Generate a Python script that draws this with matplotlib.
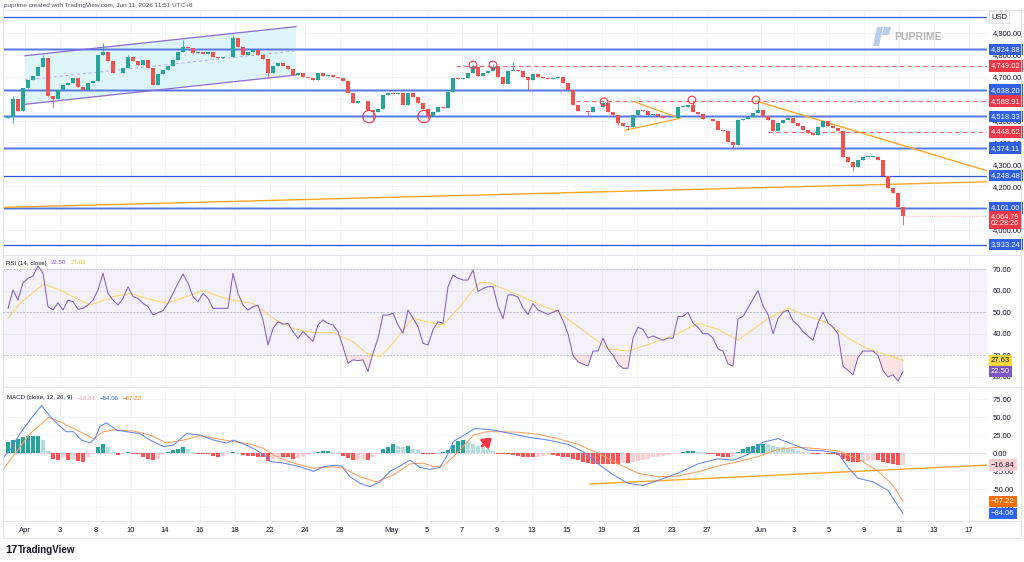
import matplotlib
matplotlib.use("Agg")
import matplotlib.pyplot as plt
import matplotlib.transforms as mtransforms
from matplotlib.patches import Polygon, Rectangle
from matplotlib.lines import Line2D
import numpy as np

plt.rcParams['font.family'] = ['Liberation Sans Narrow', 'Liberation Sans', 'DejaVu Sans']

# ---- price data (4h-ish candles) ----
first_open = 4512
closes = [
    4515, 4600, 4545, 4650, 4685, 4705, 4745, 4785, 4610, 4600,
    4640, 4660, 4670, 4693, 4655, 4640, 4670, 4680, 4800, 4815,
    4770, 4715, 4715, 4740, 4790, 4770, 4755, 4775, 4740, 4662,
    4712, 4730, 4750, 4775, 4815, 4838, 4830, 4810, 4815, 4805,
    4815, 4790, 4785, 4790, 4790, 4876, 4835, 4800, 4812, 4822,
    4800, 4780, 4715, 4750, 4762, 4750, 4735, 4710, 4716, 4700,
    4693, 4685, 4716, 4705, 4710, 4700, 4692, 4682, 4625, 4582,
    4587, 4590, 4548, 4540, 4551, 4617, 4625, 4620, 4625, 4571,
    4625, 4609, 4582, 4551, 4521, 4540, 4560, 4555, 4632, 4693,
    4689, 4693, 4719, 4743, 4704, 4716, 4727, 4743, 4700, 4667,
    4728, 4731, 4728, 4700, 4685, 4713, 4700, 4693, 4689, 4693,
    4697, 4673, 4640, 4571, 4545, 4542, 4537, 4563, 4560, 4579,
    4540, 4525, 4490, 4475, 4472, 4525, 4548, 4545, 4525, 4530,
    4521, 4513, 4510, 4510, 4563, 4563, 4569, 4540, 4530, 4506,
    4506, 4496, 4457, 4450, 4404, 4389, 4503, 4507, 4518, 4536,
    4548, 4521, 4503, 4454, 4487, 4503, 4510, 4487, 4475, 4457,
    4445, 4434, 4472, 4496, 4475, 4465, 4450, 4335, 4312, 4286,
    4320, 4335, 4335, 4335, 4320, 4247, 4190, 4168, 4107, 4065,
]
wick_highs = {1: 4612, 7: 4800, 19: 4854, 24: 4800, 35: 4868, 45: 4890,
              93: 4758, 97: 4760, 101: 4768, 119: 4592, 137: 4590, 150: 4595}
wick_lows = {1: 4487, 9: 4556, 52: 4695, 73: 4503, 84: 4505, 104: 4640,
             116: 4520, 122: 4478, 124: 4460, 145: 4372, 169: 4268, 179: 4023}
last_price = 4064.79

# ---- RSI (14) and its moving average ----
rsi = [
    51.8, 60.3, 55.6, 63.7, 65.7, 66.8, 71.5, 68.0, 52.6, 51.0,
    54.4, 51.0, 55.6, 54.9, 51.3, 51.8, 53.3, 55.6, 60.3, 68.0,
    58.7, 55.6, 53.3, 56.4, 61.8, 57.2, 56.4, 54.1, 52.6, 48.7,
    49.8, 50.7, 54.1, 58.7, 63.4, 67.7, 63.4, 57.2, 54.9, 58.7,
    56.4, 51.8, 51.8, 51.8, 51.8, 68.0, 58.7, 53.3, 51.0, 52.6,
    53.3, 46.4, 34.8, 42.5, 45.6, 44.5, 44.8, 41.0, 37.9, 41.0,
    38.7, 36.4, 44.1, 46.4, 44.8, 44.1, 41.0, 34.0, 26.3, 27.9,
    27.6, 27.9, 22.5, 31.0, 37.9, 48.7, 48.7, 49.5, 44.1, 40.2,
    51.0, 47.2, 43.3, 35.6, 34.8, 41.8, 45.6, 44.8, 61.8, 67.2,
    65.7, 64.9, 64.9, 69.5, 59.5, 61.0, 61.8, 61.8, 52.6, 47.0,
    58.0, 58.0, 57.0, 52.0, 49.0, 54.0, 51.0, 50.0, 49.0, 50.0,
    51.0, 46.0, 40.0, 30.0, 27.0, 26.0, 25.0, 32.0, 32.0, 38.0,
    33.0, 30.0, 26.0, 24.0, 24.0, 38.0, 43.0, 42.0, 38.0, 39.0,
    38.0, 37.0, 38.0, 38.0, 48.0, 48.0, 50.0, 45.0, 43.0, 40.0,
    40.0, 38.0, 33.0, 32.0, 26.0, 25.0, 47.0, 48.0, 52.0, 56.0,
    60.0, 53.0, 49.0, 40.0, 47.0, 50.0, 51.0, 46.0, 44.0, 41.0,
    39.0, 37.0, 45.0, 50.0, 45.0, 43.0, 40.0, 25.0, 23.0, 21.0,
    29.0, 32.0, 32.0, 32.0, 30.0, 23.0, 20.0, 21.0, 18.0, 22.5,
]
rsi_ma_idx = [0, 2.4, 7.1, 10.4, 13, 16.4, 18.4, 21, 24.4, 27.7, 31.7, 35.7,
              39, 42.4, 45, 49, 53, 57, 61, 65, 69, 71.7, 74.4, 77, 81, 83.7,
              87, 90.4, 93, 94.4, 96.4, 98, 102, 110, 116, 120, 124, 128, 134,
              138, 142, 146, 152, 156, 160, 164, 168, 172, 176, 179]
rsi_ma = [47.2, 54.1, 63.0, 60.3, 57.2, 53.3, 54.9, 57.2, 58.7, 56.4, 54.1,
          57.2, 60.0, 57.2, 55.6, 54.1, 47.2, 42.5, 40.5, 40.5, 36.4, 31.0,
          29.4, 35.6, 47.2, 45.6, 44.1, 52.6, 60.3, 63.7, 63.7, 61.8, 58.0,
          50.0, 40.0, 33.0, 32.0, 35.0, 40.0, 45.0, 42.0, 37.0, 47.0, 52.0,
          48.0, 45.0, 38.0, 33.0, 30.0, 27.63]

# ---- MACD (12, 26, 9) ----
macd_idx = [-0.8, 0.4, 2.4, 4.4, 6.7, 8.4, 10.1, 11.7, 13.1, 14.7, 16.4, 17.4,
            18.4, 19.7, 21.7, 23.7, 26.4, 28.4, 31.1, 33.1, 35.7, 38.4, 41.1,
            43.7, 45.1, 47.7, 49.7, 51.7, 52.4, 55.1, 58.4, 61.1, 63.1, 65.1,
            66.7, 68.4, 70.4, 72.4, 74.4, 76.4, 78.4, 80.4, 82.4, 84.4, 86.4,
            87.7, 89.1, 91.7, 93.4, 95.7, 97.7, 100, 104, 108, 112, 115, 118,
            121, 124, 127, 130, 134, 138, 142, 145, 148, 151, 154, 157, 160,
            163, 166, 168, 170, 173, 176, 179]
macd = [-5, 4, 27, 46, 66, 51, 39, 29.6, 29.6, 18, 14, 20, 37, 42, 32, 29.6,
        27, 18, 9, 11, 27, 25, 18, 14, 18, 11, 4, -5, -12, -14, -19, -25.5,
        -19, -17, -18, -33, -42, -46.8, -40, -25.5, -18, -9.7, -20, -22.7,
        -20, -5, 16, 27, 34, 33, 31, 28, 22, 18, 12, 2, -15, -30, -42, -45,
        -38, -28, -15, -8, -10, -2, 15, 20, 12, 4, 3, 0, -20, -35, -40, -52,
        -84.06]
signal_idx = [-0.8, 1.7, 4.4, 8.1, 10.4, 14.4, 17.1, 19.1, 21.1, 25.1, 28.4,
              31.7, 35.1, 38.4, 41.7, 45.1, 48.4, 51.1, 53.7, 57.1, 61.1, 65.1,
              67.1, 70.4, 73.7, 77.1, 80.4, 83.1, 85.1, 87.1, 90.4, 93.1, 95.7,
              98.1, 102, 106, 110, 114, 118, 122, 126, 130, 134, 138, 142, 146,
              150, 154, 158, 162, 166, 170, 174, 177, 179]
signal = [-21, 2, 27, 49.5, 43.5, 29.6, 20, 29.6, 32, 30.5, 25, 14, 18, 24,
          20, 15.7, 12.5, 6.5, -5, -14, -21, -19, -21, -33, -40, -30.5, -15,
          -14, -19, -18, 4, 25, 29.6, 29.6, 29, 26, 20, 12, 0, -15, -28, -33,
          -32, -26, -18, -12, -5, 5, 8, 6, 3, -8, -25, -45, -67.22]
hist = [
    16, 18, 20, 22, 23, 23, 23, 18, 3, -8,
    -10, -7, -10, -8, -11, -12, -5, -2, 9, 13,
    8, 2, -3, -2, 1, -2, -2, -5, -8, -10,
    -8, -3, 1, 4, 6, 9, 6, 2, -1, -1,
    -2, -4, -5, -4, -2, 2, 0, -3, -4, -4,
    -5, -6, -11, -8, -5, -5, -6, -8, -7, -5,
    -3, 0, 2, 3, 3, 2, 0, -4, -7, -10,
    -9, -8, -10, -5, -2, 5, 9, 12, 10, 9,
    10, 6, 4, -1, -2, -2, -1, 1, 4, 11,
    17, 18, 16, 13, 10, 7, 5, 3, -1, -1,
    -2, -3, -4, -5, -6, -6, -5, -4, -3, -3,
    -4, -5, -6, -8, -10, -12, -14, -15, -15, -15,
    -15, -15, -15, -14, -14, -12, -11, -10, -8, -6,
    -5, -4, -3, -2, 0, 2, 3, 3, 2, 1,
    -1, -2, -4, -5, -5, -4, 2, 5, 8, 10,
    12, 13, 12, 10, 9, 8, 6, 5, 3, 2,
    0, -1, -1, 0, -1, -2, -3, -8, -11, -13,
    -13, -12, -11, -10, -10, -12, -14, -15, -17, -16.84,
]

# ---- chart drawings ----
levels_bold = [4824.88, 4638.20, 4518.33, 4374.11, 4101.00]
levels_thin = [4248.48, 3933.24]
top_line = 4973
red_levels = [4749.02, 4588.91, 4448.62]
red_starts = [89.6, 113.6, 152]
channel_x = [3.4, 57.6]
channel_upper = [4796, 4929]
channel_mid = [4685, 4819]
channel_lower = [4574, 4708]
trend_up_x, trend_up_y = [-1, 195.8], [4103, 4220]
trend_dn_x, trend_dn_y = [149.6, 195.8], [4589, 4270]
tri_upper_x, tri_upper_y = [125.2, 134.4], [4586, 4510]
tri_lower_x, tri_lower_y = [123.4, 134.4], [4455, 4510]
circles_big = [(72.2, 4518), (83.2, 4518)]
circles_small = [(93.0, 4754), (97.0, 4754), (119.2, 4586), (136.8, 4594), (149.6, 4594)]
macd_trend_x, macd_trend_y = [116.4, 195.8], [-43, -16.84]
arrow_from, arrow_to = (94.4, 7), (97.2, 24)

tick_pos = [3.4, 10.4, 17.6, 24.6, 31.4, 38.4, 45.4, 52.4, 59.4, 66.4, 76.8,
            83.8, 90.8, 97.8, 104.8, 111.8, 118.8, 125.8, 132.8, 139.8, 150.6,
            157.2, 164.2, 171.2, 178.2, 185.2, 192.2]
tick_labels = ['Apr', '3', '8', '10', '14', '16', '18', '22', '24', '28', 'May',
               '5', '7', '9', '13', '15', '19', '21', '23', '27', 'Jun', '3',
               '5', '9', '11', '13', '17']

UP, DOWN = '#26a69a', '#ef5350'
BLUE_TAG, RED_TAG = '#2f5fe3', '#f23645'
TXT = '#131722'
GRID = '#f0f3fa'

W, H = 1024, 562


def px_box(x0, y0, x1, y1):
    return [x0 / W, 1 - y1 / H, (x1 - x0) / W, (y1 - y0) / H]


fig = plt.figure(figsize=(W / 100, H / 100), dpi=100)
fig.patch.set_facecolor('white')
ax = fig.add_axes(px_box(3, 10, 987, 254))
ax_rsi = fig.add_axes(px_box(3, 255, 987, 386), sharex=ax)
ax_macd = fig.add_axes(px_box(3, 387, 987, 521), sharex=ax)

for a in (ax, ax_rsi, ax_macd):
    for s in a.spines.values():
        s.set_visible(False)
    a.yaxis.tick_right()
    a.tick_params(axis='y', length=0, pad=4, labelsize=5.5, labelcolor=TXT)
    a.tick_params(axis='x', length=0, labelsize=5.5, labelcolor=TXT, pad=4)
    a.grid(True, color=GRID, lw=0.6, zorder=0)
    a.set_axisbelow(True)
    a.set_facecolor('white')

ax.set_xlim(-1, 195.8)
ax.set_xticks(tick_pos, tick_labels)
ax.tick_params(labelbottom=False)
ax_rsi.tick_params(labelbottom=False)


def tag(axis, value, text, fc, tc='white', ec='none'):
    tr = mtransforms.blended_transform_factory(axis.transAxes, axis.transData)
    axis.text(1.004, value, text, transform=tr, ha='left', va='center',
              fontsize=5.5, color=tc, zorder=20, clip_on=False,
              bbox=dict(boxstyle='square,pad=0.3', fc=fc, ec=ec, lw=0.5))


# ---------------- main price pane ----------------
ax.set_ylim(3890, 5005)
ax.set_yticks(range(4000, 5000, 100))
ax.yaxis.set_major_formatter(plt.FuncFormatter(lambda v, p: f"{v:,.2f}"))

idx = np.arange(len(closes))
c = np.array(closes, dtype=float)
o = np.array([first_open] + closes[:-1], dtype=float)
hi = np.maximum(o, c)
lo = np.minimum(o, c)
for k, v in wick_highs.items():
    hi[k] = v
for k, v in wick_lows.items():
    lo[k] = v
cols = [UP if cc >= oo else DOWN for oo, cc in zip(o, c)]

# channel
ax.add_patch(Polygon([(channel_x[0], channel_lower[0]), (channel_x[0], channel_upper[0]),
                      (channel_x[1], channel_upper[1]), (channel_x[1], channel_lower[1])],
                     closed=True, fc='#def5fa', ec='none', zorder=1))
ax.plot(channel_x, channel_upper, color='#8c6bd6', lw=0.9, zorder=3)
ax.plot(channel_x, channel_lower, color='#8c6bd6', lw=0.9, zorder=3)
ax.plot(channel_x, channel_mid, color='#b9a6e6', lw=0.7, ls=(0, (3, 3)), zorder=3)

# horizontal levels
for lv in levels_bold:
    ax.axhline(lv, color='#8ea6ee', lw=1.8, zorder=2)
    ax.axhline(lv, color='#4a6fe0', lw=0.6, zorder=2)
for lv in levels_thin + [top_line]:
    ax.axhline(lv, color='#2f55d8', lw=0.9, zorder=2)
for lv, st in zip(red_levels, red_starts):
    ax.hlines(lv, st, 195.8, color='#f0646c', lw=0.8, linestyles=(0, (4, 3)), zorder=2)

# trend lines
ax.plot(trend_up_x, trend_up_y, color='#ffa726', lw=1.0, zorder=3)
ax.plot(trend_dn_x, trend_dn_y, color='#ffa726', lw=1.0, zorder=3)
ax.plot(tri_upper_x, tri_upper_y, color='#ffa726', lw=0.9, zorder=3)
ax.plot(tri_lower_x, tri_lower_y, color='#ffa726', lw=0.9, zorder=3)

# candles
ax.vlines(idx, lo, hi, colors=cols, lw=0.6, zorder=4)
ax.bar(idx, np.maximum(np.abs(c - o), 1.5), bottom=np.minimum(o, c),
       width=0.62, color=cols, zorder=5)

# current price
ax.hlines(last_price, idx[-1], 195.8, color='#f7a8ad', lw=0.6, linestyles=':', zorder=2)

# circles
ax.scatter(*zip(*circles_big), s=80, facecolors='none', edgecolors='#f23645', lw=0.8, zorder=6)
ax.scatter(*zip(*circles_small), s=30, facecolors='none', edgecolors='#f23645', lw=0.8, zorder=6)

# right tags
tag(ax, top_line, 'USD', 'white', tc=TXT, ec='#d1d4dc')
for lv in levels_bold + levels_thin:
    tag(ax, lv, f"{lv:,.2f}", BLUE_TAG)
for lv in red_levels:
    tag(ax, lv, f"{lv:,.2f}", RED_TAG)
tr = mtransforms.blended_transform_factory(ax.transAxes, ax.transData)
ax.text(1.004, last_price - 20, f"{last_price:,.2f}\n02:28:26", transform=tr, ha='left',
        va='center', fontsize=5.2, color='white', zorder=21, clip_on=False, linespacing=1.0,
        bbox=dict(boxstyle='square,pad=0.3', fc=RED_TAG, ec='none'))

# ---------------- RSI pane ----------------
ax_rsi.set_ylim(15.8, 76.5)
ax_rsi.set_yticks([20, 30, 40, 50, 60, 70])
ax_rsi.yaxis.set_major_formatter(plt.FuncFormatter(lambda v, p: f"{v:.2f}"))
ax_rsi.axhspan(30, 70, color='#7e57c2', alpha=0.08, lw=0, zorder=1)
for lv in (70, 50, 30):
    ax_rsi.axhline(lv, color='#b2b5be', lw=0.6, ls=(0, (2, 2)), zorder=2)
r = np.array(rsi)
ax_rsi.fill_between(idx, r, 30, where=r < 30, interpolate=True, color='#f23645', alpha=0.13, lw=0, zorder=2)
ax_rsi.fill_between(idx, r, 70, where=r > 70, interpolate=True, color='#26a69a', alpha=0.13, lw=0, zorder=2)
ax_rsi.plot(rsi_ma_idx, rsi_ma, color='#f9d65c', lw=0.7, zorder=3)
ax_rsi.plot(idx, r, color='#7e57c2', lw=0.7, zorder=4)
tag(ax_rsi, 27.63, '27.63', '#fdd835', tc=TXT)
tag(ax_rsi, 22.50, '22.50', '#7e57c2')

# ---------------- MACD pane ----------------
ax_macd.set_ylim(-94.4, 91.7)
ax_macd.set_yticks([-75, -50, -25, 0, 25, 50, 75])
ax_macd.yaxis.set_major_formatter(plt.FuncFormatter(lambda v, p: f"{v:.2f}"))
ax_macd.axhline(0, color='#c8cad0', lw=0.6, ls=(0, (2, 2)), zorder=1)
hcols = []
for k, v in enumerate(hist):
    prev = hist[k - 1] if k else v
    if v >= 0:
        hcols.append('#26a69a' if v >= prev else '#b2dfdb')
    else:
        hcols.append('#ff5252' if v <= prev else '#ffcdd2')
ax_macd.bar(idx, hist, width=0.75, color=hcols, zorder=2)
ax_macd.plot(signal_idx, signal, color='#ff9a4d', lw=0.7, zorder=3)
ax_macd.plot(macd_idx, macd, color='#5b7fff', lw=0.7, zorder=4)
ax_macd.plot(macd_trend_x, macd_trend_y, color='#ffa726', lw=1.0, zorder=3)
ax_macd.annotate('', xy=arrow_to, xytext=arrow_from,
                 arrowprops=dict(arrowstyle='-|>,head_width=0.35,head_length=0.5',
                                 color='#f23645', lw=2.0), zorder=6)
tag(ax_macd, -16.84, '\u221216.84', '#ffcdd2', tc=TXT)
tag(ax_macd, -67.22, '\u221267.22', '#ff6d00')
tag(ax_macd, -84.06, '\u221284.06', '#2962ff')

# ---------------- frame, headers, logos ----------------
fig.add_artist(Rectangle((3 / W, 1 - 538 / H), 1018 / W, 528 / H, transform=fig.transFigure,
                         fill=False, ec='#e0e3eb', lw=0.6))
for yy in (255, 386.5, 521):
    fig.add_artist(Line2D([3 / W, 1021 / W], [1 - yy / H] * 2, color='#e0e3eb', lw=0.6))

fig.text(4 / W, 1 - 5 / H, 'puprime created with TradingView.com, Jun 11, 2026 11:51 UTC+8',
         fontsize=4.6, color='#50535e', va='center')


def legend_row(x, y, parts):
    # parts: list of (text, colour); each piece placed right after the previous one
    prev = fig.text(x / W, 1 - y / H, parts[0][0], fontsize=4.4, color=parts[0][1], va='center')
    for txt, col in parts[1:]:
        prev = fig.add_artist(plt.Annotation(txt, xy=(1, 0.5), xycoords=prev, xytext=(3, 0),
                                             textcoords='offset points', va='center', ha='left',
                                             fontsize=4.4, color=col))


legend_row(6, 263, [('RSI (14, close)', TXT), ('22.50', '#7e57c2'), ('27.63', '#e8c21c')])
legend_row(7, 398, [('MACD (close, 12, 26, 9)', TXT), ('\u221216.84', '#f7a1a8'),
                    ('\u221284.06', '#2962ff'), ('\u221267.22', '#ff6d00')])

# PU Prime watermark
fig.add_artist(Polygon([(873 / W, 1 - 46 / H), (877 / W, 1 - 27 / H), (883 / W, 1 - 27 / H),
                        (879 / W, 1 - 46 / H)], closed=True, fc='#b9cdf0', ec='none',
                       transform=fig.transFigure))
fig.add_artist(Polygon([(884 / W, 1 - 27 / H), (891 / W, 1 - 27 / H), (889 / W, 1 - 35 / H),
                        (882 / W, 1 - 35 / H)], closed=True, fc='#b9cdf0', ec='none',
                       transform=fig.transFigure))
fig.text(894 / W, 1 - 37 / H, 'PUPRIME', fontsize=7.5, color='#b4b4b4', fontweight='bold',
         va='center', family=['Liberation Sans', 'DejaVu Sans'])

# TradingView logo
fig.text(5 / W, 1 - 550 / H, '17', fontsize=8, color=TXT, fontweight='bold', va='center',
         family=['Liberation Sans', 'DejaVu Sans'])
fig.text(18 / W, 1 - 550 / H, 'TradingView', fontsize=7, color=TXT, fontweight='bold',
         va='center', family=['Liberation Sans', 'DejaVu Sans'])

fig.savefig('out.png', dpi=100)
